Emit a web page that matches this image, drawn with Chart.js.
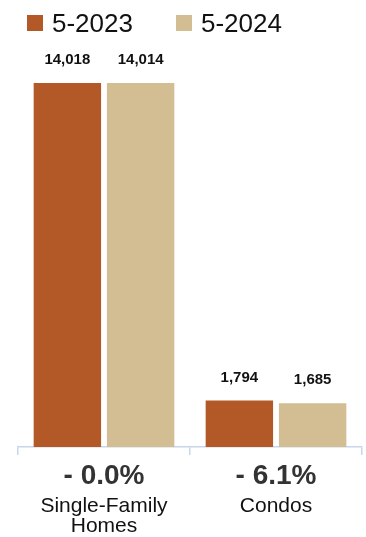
<!DOCTYPE html>
<html>
<head>
<meta charset="utf-8">
<script src="https://cdn.jsdelivr.net/npm/chart.js@4"></script>
<style>
  html, body { margin: 0; padding: 0; background: #fff; }
  body { width: 366px; height: 537px; position: relative; overflow: hidden; font-family: "Liberation Sans", Arial, Helvetica, sans-serif; }
  #legend { position: absolute; left: 0; top: 0; width: 366px; height: 46px; }
  .leg-item { position: absolute; top: 8px; height: 30px; display: flex; align-items: center; font-size: 26px; color: #111; white-space: nowrap; }
  .leg-dot { width: 16px; height: 16px; margin-right: 9px; }
  #wrap { position: absolute; left: 0; top: 0; width: 366px; height: 537px; }
</style>
</head>
<body>
<div id="wrap"><canvas id="chart"></canvas></div>
<div id="legend"></div>
<script>
// Data
const categories = [['Single-Family', 'Homes'], 'Condos'];
const changeLabels = ['- 0.0%', '- 6.1%'];
const seriesNames = ['5-2023', '5-2024'];
const values2023 = [14018, 1794];
const values2024 = [14014, 1685];

const COLORS = ['#b35827', '#d3be93'];
const FONT = '"Liberation Sans", Arial, Helvetica, sans-serif';

// HTML legend
const legEl = document.getElementById('legend');
const legX = [27, 176];
legEl.innerHTML = seriesNames.map((n, i) =>
  `<div class="leg-item" style="left:${legX[i]}px"><div class="leg-dot" style="background:${COLORS[i]}"></div>${n}</div>`).join('');

// value labels above bars
const barLabels = {
  id: 'barLabels',
  afterDatasetsDraw(chart) {
    const ctx = chart.ctx;
    ctx.save();
    ctx.font = `bold 15px ${FONT}`;
    ctx.fillStyle = '#111';
    ctx.textAlign = 'center';
    ctx.textBaseline = 'middle';
    chart.data.datasets.forEach((ds, di) => {
      chart.getDatasetMeta(di).data.forEach((bar, i) => {
        ctx.fillText(ds.data[i].toLocaleString('en-US'), bar.x, bar.y - 23);
      });
    });
    ctx.restore();
  }
};

new Chart(document.getElementById('chart'), {
  type: 'bar',
  data: {
    labels: categories,
    datasets: [
      { label: seriesNames[0], data: values2023, backgroundColor: COLORS[0] },
      { label: seriesNames[1], data: values2024, backgroundColor: COLORS[1] }
    ]
  },
  options: {
    responsive: true, maintainAspectRatio: false, animation: false,
    categoryPercentage: 0.852, barPercentage: 0.92,
    layout: { padding: { top: 31.5, left: 18, right: 4, bottom: 2 } },
    plugins: { legend: { display: false }, tooltip: { enabled: false } },
    scales: {
      y: { display: false, min: 0, max: 16000 },
      x: {
        weight: 0,
        grid: { display: true, drawOnChartArea: false, offset: true, tickLength: 8, color: '#c9d5ea', lineWidth: 1.5 },
        border: { display: true, color: '#c9d5ea', width: 1.5 },
        ticks: { color: '#333', font: { family: FONT, size: 28, weight: 'bold', lineHeight: 1.0 }, padding: 7, maxRotation: 0,
          callback: (v, i) => changeLabels[i] }
      },
      xName: {
        type: 'category', position: 'bottom', weight: 1,
        labels: categories,
        grid: { display: false, drawTicks: false }, border: { display: false },
        ticks: { color: '#111', font: { family: FONT, size: 21, lineHeight: 0.952 }, padding: -1, maxRotation: 0 }
      }
    }
  },
  plugins: [barLabels]
});
</script>
</body>
</html>
